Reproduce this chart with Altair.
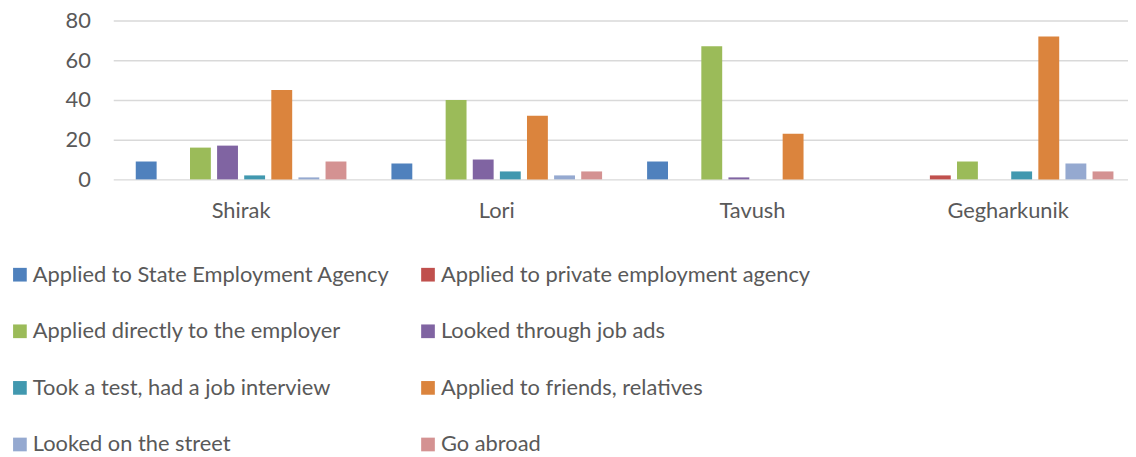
import altair as alt
import pandas as pd

regions = ["Shirak", "Lori", "Tavush", "Gegharkunik"]
series = [
    "Applied to State Employment Agency",
    "Applied to private employment agency",
    "Applied directly to the employer",
    "Looked through job ads",
    "Took a test, had a job interview",
    "Applied to friends, relatives",
    "Looked on the street",
    "Go abroad",
]
colors = ["#4F81BD", "#C0504D", "#9BBB59", "#8064A2", "#4198AF", "#DB843D", "#95A9D0", "#D49292"]

shirak = [9, 0, 16, 17, 2, 45, 1, 9]
lori = [8, 0, 40, 10, 4, 32, 2, 4]
tavush = [9, 0, 67, 1, 0, 23, 0, 0]
gegharkunik = [0, 2, 9, 0, 4, 72, 8, 4]

rows = []
for reg, vals in zip(regions, [shirak, lori, tavush, gegharkunik]):
    for s, v in zip(series, vals):
        rows.append({"region": reg, "series": s, "value": v})
df = pd.DataFrame(rows)

FONT = "Lato"
TXT = "#595959"
FS = 22

chart = alt.Chart(df).mark_bar().encode(
    x=alt.X("region:N", sort=regions, title=None,
            scale=alt.Scale(range=[0, 1030], paddingInner=0, paddingOuter=0),
            axis=alt.Axis(labelAngle=0, domain=False, ticks=False, labelPadding=21,
                          labelFontSize=FS, labelFont=FONT, labelColor=TXT, grid=False)),
    xOffset=alt.XOffset("series:N", sort=series,
                        scale=alt.Scale(paddingInner=0.23, paddingOuter=0.83)),
    y=alt.Y("value:Q", title=None,
            scale=alt.Scale(domain=[0, 80], nice=False),
            axis=alt.Axis(values=[0, 20, 40, 60, 80], domain=False, ticks=False,
                          labelPadding=23, labelFontSize=FS, labelFont=FONT,
                          labelColor=TXT, gridColor="#D9D9D9", gridWidth=1.5)),
    color=alt.Color("series:N", sort=series,
                    scale=alt.Scale(domain=series, range=colors),
                    legend=alt.Legend(title=None, orient="none", legendX=-105, legendY=245,
                                      direction="horizontal",
                                      columns=2, columnPadding=27, rowPadding=35,
                                      symbolType="square", symbolSize=190,
                                      symbolStrokeWidth=0, labelOffset=2,
                                      labelFontSize=FS, labelFont=FONT, labelColor=TXT,
                                      labelLimit=500)),
).properties(
    width=1022, height=160,
    autosize=alt.AutoSizeParams(type="none"),
    padding={"left": 106, "top": 11, "right": 0, "bottom": 278},
).configure_view(stroke=None)

chart.save("out.html", embed_options={"renderer": "svg", "actions": False})
